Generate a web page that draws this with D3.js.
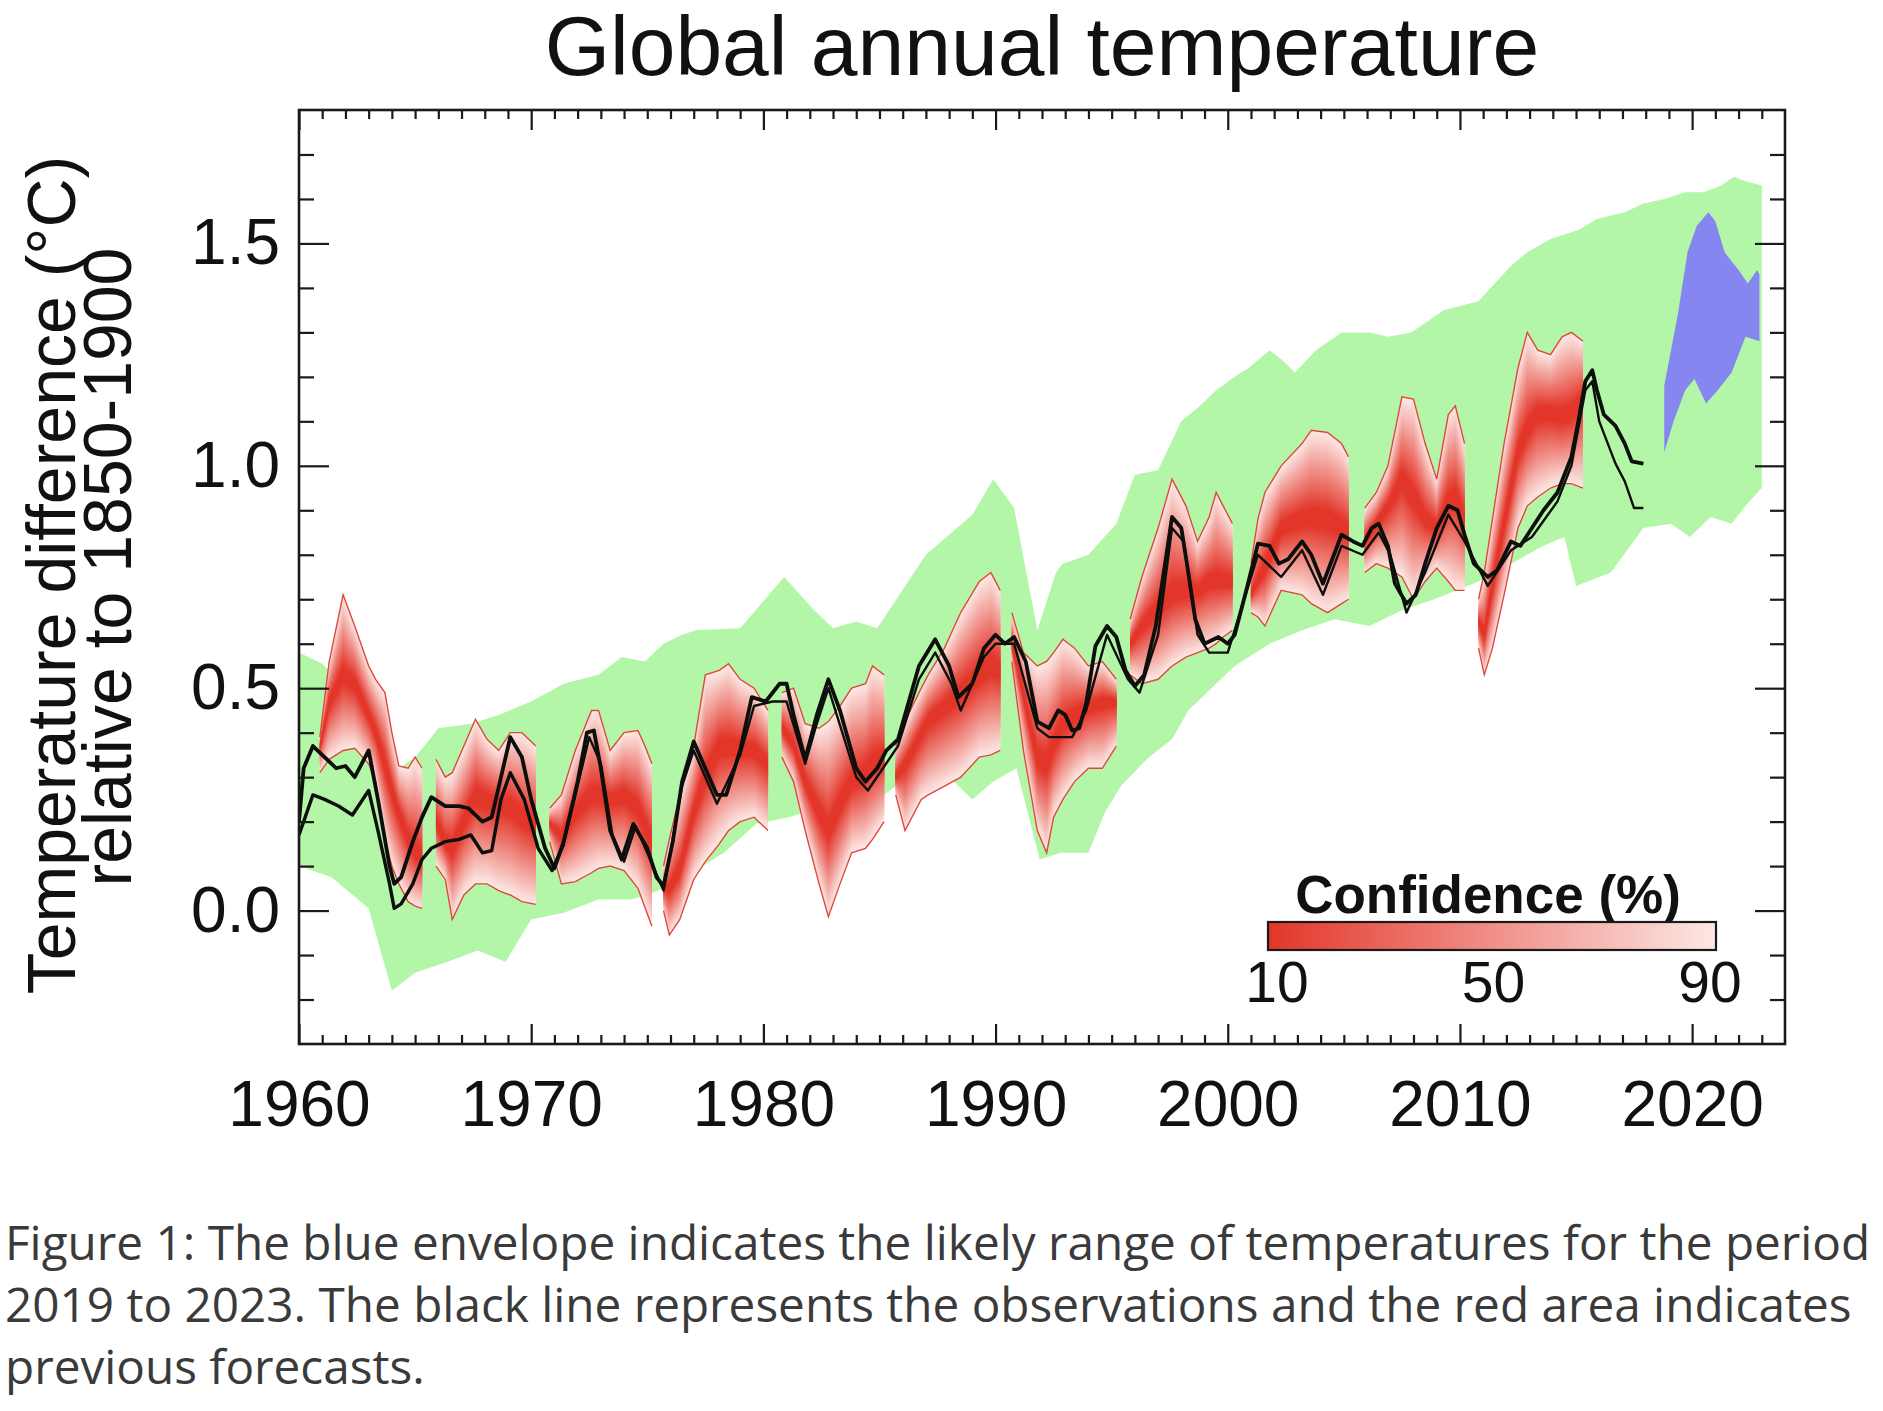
<!DOCTYPE html>
<html>
<head>
<meta charset="utf-8">
<title>Global annual temperature</title>
<script src="https://cdn.jsdelivr.net/npm/d3@7"></script>
<style>
  body { margin: 0; background: #fff; }
  svg { display: block; }
  .axis text { font-family: "Liberation Sans", Arial, sans-serif; font-size: 64px; fill: #111; }
  .axis line { stroke: #1a1a1a; stroke-width: 2.2px; }
  .axis .domain { display: none; }
</style>
</head>
<body>
<svg id="chart"></svg>
<script>
// ---- data ----------------------------------------------------------------

const decadeTicks = [1960, 1970, 1980, 1990, 2000, 2010, 2020];
const valueTicks = [0.0, 0.5, 1.0, 1.5];
const confidenceTicks = [10, 50, 90];

// green envelope: [year, value]
const envelopeUpper = [
  [1960.0, 0.58], [1961.0, 0.555], [1962.0, 0.50], [1963.0, 0.42], [1963.7, 0.36],
  [1964.3, 0.32], [1965.0, 0.345], [1965.4, 0.37], [1966.0, 0.41], [1967.4, 0.42],
  [1968.6, 0.44], [1970.0, 0.47], [1971.4, 0.51], [1972.9, 0.53], [1973.9, 0.57],
  [1974.9, 0.56], [1975.7, 0.60], [1976.5, 0.62], [1977.1, 0.63], [1979.0, 0.635],
  [1980.9, 0.75], [1982.1, 0.68], [1983.0, 0.635], [1984.0, 0.65], [1984.9, 0.635],
  [1987.0, 0.80], [1989.0, 0.89], [1989.9, 0.97], [1990.8, 0.905], [1991.8, 0.63],
  [1992.6, 0.76], [1992.9, 0.78], [1994.0, 0.80], [1995.2, 0.87], [1996.0, 0.98],
  [1997.0, 0.99], [1998.0, 1.10], [1998.7, 1.13], [1999.5, 1.17], [2000.3, 1.20],
  [2000.9, 1.22], [2001.8, 1.26], [2002.3, 1.24], [2002.9, 1.21], [2003.8, 1.26],
  [2004.9, 1.30], [2006.1, 1.30], [2006.9, 1.29], [2007.9, 1.30], [2009.3, 1.35],
  [2010.8, 1.37], [2012.2, 1.45], [2012.9, 1.48], [2013.9, 1.51], [2015.1, 1.53],
  [2015.9, 1.555], [2017.1, 1.57], [2017.9, 1.59], [2018.8, 1.60], [2019.7, 1.615],
  [2020.5, 1.615], [2021.25, 1.63], [2021.8, 1.65], [2022.3, 1.64], [2023.0, 1.63]
];
const envelopeLower = [
  [1960.0, 0.10], [1961.4, 0.075], [1963.0, 0.005], [1964.0, -0.18], [1965.0, -0.14],
  [1966.4, -0.115], [1967.7, -0.09], [1968.9, -0.115], [1970.0, -0.02], [1971.4, -0.005],
  [1972.9, 0.025], [1974.3, 0.025], [1975.0, 0.035], [1976.1, 0.06], [1977.0, 0.088],
  [1978.3, 0.13], [1979.7, 0.195], [1981.1, 0.21], [1982.6, 0.235], [1984.0, 0.235],
  [1985.2, 0.26], [1986.2, 0.30], [1987.6, 0.32], [1989.0, 0.25], [1989.9, 0.29],
  [1990.9, 0.32], [1991.9, 0.115], [1992.8, 0.13], [1994.0, 0.13], [1994.7, 0.22],
  [1995.4, 0.28], [1996.6, 0.345], [1997.6, 0.385], [1998.3, 0.45], [1999.5, 0.51],
  [2000.3, 0.55], [2001.8, 0.60], [2003.2, 0.63], [2004.6, 0.655], [2006.1, 0.64],
  [2007.5, 0.675], [2008.9, 0.70], [2010.8, 0.74], [2012.2, 0.78], [2013.6, 0.82],
  [2014.5, 0.84], [2015.0, 0.73], [2016.5, 0.76], [2017.9, 0.86], [2019.1, 0.87],
  [2019.9, 0.84], [2020.8, 0.885], [2021.7, 0.87], [2022.3, 0.91], [2023.0, 0.95]
];

// blue envelope, forecast for 2019-2023: [year, value]
const outlookUpper = [
  [2018.8, 1.18], [2019.4, 1.345], [2019.8, 1.48], [2020.2, 1.54], [2020.7, 1.57],
  [2021.0, 1.55], [2021.4, 1.48], [2022.0, 1.44], [2022.4, 1.41], [2022.8, 1.44],
  [2022.9, 1.43]
];
const outlookLower = [
  [2018.8, 1.03], [2019.2, 1.10], [2019.7, 1.17], [2020.1, 1.195], [2020.6, 1.14],
  [2021.1, 1.17], [2021.7, 1.21], [2022.3, 1.29], [2022.9, 1.28]
];

// previous forecasts: [year, 90% low, median, 90% high]
const forecast1961 = [
  [1960.9, 0.31, 0.37, 0.39], [1961.3, 0.34, 0.47, 0.56], [1961.9, 0.36, 0.53, 0.71],
  [1962.4, 0.365, 0.51, 0.64], [1963.0, 0.33, 0.44, 0.55], [1963.3, 0.29, 0.40, 0.52],
  [1963.7, 0.16, 0.33, 0.49], [1964.0, 0.10, 0.27, 0.40], [1964.3, 0.06, 0.22, 0.325],
  [1964.7, 0.02, 0.16, 0.32], [1965.0, 0.01, 0.13, 0.345], [1965.3, 0.005, 0.115, 0.32]
];
const forecast1966 = [
  [1965.9, 0.10, 0.20, 0.34], [1966.3, 0.07, 0.15, 0.30], [1966.6, -0.02, 0.14, 0.31],
  [1967.1, 0.035, 0.20, 0.37], [1967.6, 0.06, 0.26, 0.43], [1968.1, 0.06, 0.25, 0.385],
  [1968.6, 0.045, 0.24, 0.36], [1969.1, 0.035, 0.235, 0.40], [1969.6, 0.02, 0.21, 0.40],
  [1970.2, 0.014, 0.19, 0.37]
];
const forecast1971 = [
  [1970.8, 0.155, 0.195, 0.23], [1971.3, 0.06, 0.17, 0.26], [1971.9, 0.065, 0.22, 0.36],
  [1972.6, 0.085, 0.26, 0.45], [1972.9, 0.095, 0.26, 0.45], [1973.4, 0.10, 0.25, 0.36],
  [1974.0, 0.09, 0.26, 0.40], [1974.6, 0.05, 0.23, 0.405], [1974.9, 0.007, 0.19, 0.37],
  [1975.2, -0.035, 0.155, 0.33]
];
const forecast1976 = [
  [1975.7, 0.0, 0.05, 0.10], [1975.95, -0.055, 0.05, 0.16], [1976.4, -0.02, 0.09, 0.26],
  [1977.0, 0.07, 0.22, 0.37], [1977.5, 0.11, 0.30, 0.53], [1978.1, 0.15, 0.37, 0.54],
  [1978.5, 0.18, 0.37, 0.555], [1979.0, 0.20, 0.365, 0.52], [1979.6, 0.21, 0.36, 0.50],
  [1980.2, 0.18, 0.33, 0.45]
];
const forecast1981 = [
  [1980.8, 0.345, 0.41, 0.49], [1981.3, 0.29, 0.37, 0.50], [1981.8, 0.18, 0.29, 0.42],
  [1982.4, 0.06, 0.22, 0.41], [1982.8, -0.014, 0.18, 0.425], [1983.3, 0.06, 0.24, 0.46],
  [1983.8, 0.13, 0.29, 0.50], [1984.4, 0.14, 0.31, 0.51], [1984.7, 0.16, 0.33, 0.55],
  [1985.2, 0.20, 0.345, 0.53]
];
const forecast1986 = [
  [1985.7, 0.26, 0.30, 0.37], [1986.1, 0.18, 0.33, 0.425], [1986.8, 0.25, 0.40, 0.50],
  [1987.1, 0.26, 0.43, 0.53], [1987.8, 0.28, 0.46, 0.59], [1988.5, 0.30, 0.49, 0.67],
  [1989.3, 0.345, 0.53, 0.74], [1989.8, 0.35, 0.55, 0.76], [1990.2, 0.36, 0.54, 0.72]
];
const forecast1991 = [
  [1990.7, 0.56, 0.60, 0.67], [1991.2, 0.36, 0.49, 0.58], [1991.8, 0.18, 0.34, 0.55],
  [1992.2, 0.13, 0.33, 0.56], [1992.5, 0.21, 0.37, 0.58], [1992.9, 0.25, 0.42, 0.61],
  [1993.4, 0.29, 0.44, 0.59], [1994.0, 0.32, 0.46, 0.55], [1994.6, 0.32, 0.47, 0.56],
  [1995.2, 0.37, 0.47, 0.52]
];
const forecast1996 = [
  [1995.8, 0.53, 0.60, 0.655], [1996.3, 0.51, 0.64, 0.75], [1997.0, 0.52, 0.68, 0.86],
  [1997.6, 0.55, 0.71, 0.97], [1998.2, 0.57, 0.72, 0.91], [1998.7, 0.58, 0.72, 0.83],
  [1999.2, 0.59, 0.74, 0.885], [1999.5, 0.60, 0.74, 0.94], [1999.8, 0.615, 0.74, 0.91],
  [2000.2, 0.63, 0.74, 0.87]
];
const forecast2001 = [
  [2001.0, 0.67, 0.71, 0.78], [2001.3, 0.66, 0.74, 0.88], [2001.6, 0.64, 0.77, 0.94],
  [2002.3, 0.72, 0.86, 1.00], [2003.2, 0.71, 0.88, 1.05], [2003.6, 0.69, 0.885, 1.08],
  [2004.3, 0.67, 0.88, 1.075], [2004.9, 0.69, 0.86, 1.05], [2005.2, 0.70, 0.85, 1.02]
];
const forecast2006 = [
  [2005.9, 0.76, 0.83, 0.905], [2006.4, 0.78, 0.87, 0.94], [2006.9, 0.77, 0.91, 1.00],
  [2007.5, 0.75, 0.97, 1.155], [2008.0, 0.70, 0.93, 1.15], [2008.5, 0.74, 0.88, 1.05],
  [2009.0, 0.77, 0.86, 0.97], [2009.5, 0.74, 0.92, 1.115], [2009.8, 0.72, 0.93, 1.135],
  [2010.2, 0.72, 0.88, 1.05]
];
const forecast2011 = [
  [2010.8, 0.59, 0.65, 0.70], [2011.05, 0.53, 0.62, 0.76], [2011.4, 0.59, 0.73, 0.88],
  [2011.9, 0.71, 0.87, 1.05], [2012.5, 0.86, 1.03, 1.22], [2012.9, 0.91, 1.08, 1.30],
  [2013.35, 0.93, 1.12, 1.26], [2013.9, 0.95, 1.12, 1.25], [2014.4, 0.96, 1.11, 1.29],
  [2014.8, 0.96, 1.12, 1.30], [2015.3, 0.95, 1.15, 1.28]
];

// observations: [year, value]
const obsMain = [
  [1960.0, 0.20], [1960.2, 0.32], [1960.6, 0.37], [1961.1, 0.345], [1961.6, 0.32],
  [1962.0, 0.325], [1962.4, 0.30], [1963.0, 0.36], [1963.4, 0.25], [1963.9, 0.10],
  [1964.1, 0.06], [1964.4, 0.075], [1964.9, 0.155], [1965.3, 0.21], [1965.7, 0.255],
  [1966.3, 0.235], [1966.9, 0.235], [1967.3, 0.23], [1967.9, 0.20], [1968.3, 0.21],
  [1968.7, 0.30], [1969.1, 0.39], [1969.6, 0.345], [1970.0, 0.25], [1970.6, 0.14],
  [1971.0, 0.095], [1971.4, 0.155], [1972.0, 0.29], [1972.4, 0.40], [1972.7, 0.405],
  [1973.0, 0.32], [1973.4, 0.18], [1973.9, 0.115], [1974.4, 0.195], [1975.0, 0.14],
  [1975.4, 0.075], [1975.7, 0.055], [1976.1, 0.155], [1976.5, 0.29], [1977.0, 0.38],
  [1977.5, 0.32], [1978.0, 0.26], [1978.4, 0.26], [1979.0, 0.36], [1979.5, 0.48],
  [1980.1, 0.47], [1980.7, 0.51], [1981.0, 0.51], [1981.3, 0.44], [1981.8, 0.34],
  [1982.3, 0.44], [1982.8, 0.52], [1983.3, 0.45], [1984.0, 0.32], [1984.4, 0.29],
  [1984.9, 0.32], [1985.3, 0.36], [1985.8, 0.385], [1986.7, 0.55], [1987.4, 0.61],
  [1988.0, 0.55], [1988.4, 0.48], [1989.0, 0.51], [1989.5, 0.59], [1990.0, 0.62],
  [1990.4, 0.60], [1990.8, 0.615], [1991.3, 0.56], [1991.8, 0.425], [1992.3, 0.41],
  [1992.7, 0.45], [1993.0, 0.44], [1993.3, 0.405], [1993.6, 0.41], [1993.9, 0.465],
  [1994.3, 0.595], [1994.8, 0.64], [1995.2, 0.615], [1995.6, 0.54], [1996.0, 0.505],
  [1996.4, 0.53], [1996.9, 0.64], [1997.3, 0.78], [1997.6, 0.885], [1998.0, 0.86],
  [1998.3, 0.76], [1998.6, 0.655], [1999.0, 0.60], [1999.6, 0.615], [2000.0, 0.60],
  [2000.3, 0.62], [2000.8, 0.72], [2001.3, 0.825], [2001.8, 0.82], [2002.2, 0.78],
  [2002.6, 0.79], [2003.2, 0.83], [2003.6, 0.80], [2004.1, 0.735], [2004.5, 0.79],
  [2004.9, 0.845], [2005.4, 0.83], [2005.8, 0.82], [2006.2, 0.86], [2006.5, 0.87],
  [2006.9, 0.82], [2007.2, 0.735], [2007.7, 0.69], [2008.1, 0.71], [2008.5, 0.78],
  [2009.0, 0.86], [2009.5, 0.91], [2009.9, 0.90], [2010.2, 0.845], [2010.6, 0.78],
  [2011.2, 0.75], [2011.6, 0.765], [2012.2, 0.83], [2012.6, 0.82], [2013.1, 0.86],
  [2013.6, 0.90], [2014.2, 0.94], [2014.8, 1.02], [2015.1, 1.10], [2015.4, 1.19],
  [2015.7, 1.215], [2015.9, 1.17], [2016.2, 1.115], [2016.7, 1.09], [2017.1, 1.05],
  [2017.4, 1.01], [2017.9, 1.005]
];
const obsEarly = [
  [1960.0, 0.17], [1960.6, 0.26], [1961.1, 0.25], [1961.7, 0.235], [1962.3, 0.215],
  [1963.0, 0.27], [1963.4, 0.18], [1963.9, 0.06], [1964.1, 0.005], [1964.4, 0.015],
  [1964.9, 0.06], [1965.3, 0.115], [1965.7, 0.14], [1966.3, 0.155], [1966.9, 0.16],
  [1967.4, 0.17], [1967.9, 0.13], [1968.3, 0.135], [1968.7, 0.25], [1969.1, 0.31],
  [1969.7, 0.25], [1970.3, 0.14], [1970.9, 0.09], [1971.4, 0.15]
];
const obsAlt = [
  [1971.4, 0.15], [1972.0, 0.28], [1972.5, 0.39], [1973.0, 0.33], [1973.5, 0.17],
  [1974.0, 0.11], [1974.5, 0.19], [1975.0, 0.13], [1975.7, 0.045], [1976.5, 0.28],
  [1977.0, 0.36], [1978.0, 0.24], [1979.0, 0.35], [1979.6, 0.46], [1980.4, 0.47],
  [1981.0, 0.47], [1981.8, 0.33], [1982.3, 0.42], [1982.8, 0.50], [1984.0, 0.30],
  [1984.5, 0.27], [1985.8, 0.37], [1986.7, 0.52], [1987.4, 0.58], [1988.1, 0.51],
  [1988.5, 0.45], [1989.5, 0.57], [1990.0, 0.60], [1990.8, 0.60], [1991.8, 0.41],
  [1992.3, 0.39], [1993.3, 0.39], [1993.9, 0.45], [1994.8, 0.62], [1995.7, 0.52],
  [1996.2, 0.49], [1997.0, 0.62], [1997.6, 0.86], [1998.1, 0.83], [1998.7, 0.62],
  [1999.2, 0.58], [2000.0, 0.58], [2001.3, 0.80], [2002.3, 0.75], [2003.2, 0.81],
  [2004.1, 0.71], [2004.9, 0.82], [2005.8, 0.80], [2006.5, 0.85], [2007.0, 0.80],
  [2007.7, 0.67], [2008.5, 0.76], [2009.5, 0.89], [2010.2, 0.83], [2011.2, 0.73],
  [2012.2, 0.81], [2013.1, 0.84], [2014.2, 0.92], [2014.8, 1.00], [2015.4, 1.17],
  [2015.7, 1.19], [2016.0, 1.10], [2016.7, 1.005], [2017.1, 0.965], [2017.5, 0.905],
  [2017.9, 0.905]
];

const captionLines = [
  'Figure 1: The blue envelope indicates the likely range of temperatures for the period',
  '2019 to 2023. The black line represents the observations and the red area indicates',
  'previous forecasts.'
];

// ---- chart ----------------------------------------------------------------

class ForecastChart {

  constructor(_config) {
    this.config = {
      parentElement: _config.parentElement,
      containerWidth: _config.containerWidth || 1883,
      containerHeight: _config.containerHeight || 1411,
      margin: _config.margin || {top: 110, right: 98, bottom: 367, left: 299},
      title: _config.title,
      yLabel: _config.yLabel
    }
    this.forecasts = [forecast1961, forecast1966, forecast1971, forecast1976, forecast1981,
      forecast1986, forecast1991, forecast1996, forecast2001, forecast2006, forecast2011];
    this.initVis();
  }

  initVis() {
    let vis = this;

    vis.width = vis.config.containerWidth - vis.config.margin.left - vis.config.margin.right;
    vis.height = vis.config.containerHeight - vis.config.margin.top - vis.config.margin.bottom;

    vis.xScale = d3.scaleLinear()
        .domain([1960, 2024])
        .range([0, vis.width]);

    vis.yScale = d3.scaleLinear()
        .domain([-0.3, 1.8])
        .range([vis.height, 0]);

    // confidence (%) -> shade of red, same scale feeds the legend bar
    vis.colour = d3.scaleLinear()
        .domain([10, 90])
        .range(['#e3362a', '#fce8e5'])
        .clamp(true);

    // nested bands, widest (90%) first; width of each band grows with its level
    vis.levels = d3.range(90, 0, -2.5);
    vis.spread = d3.scaleLinear().domain([0, 90]).range([0, 1]);

    vis.svg = d3.select(vis.config.parentElement)
        .attr('width', vis.config.containerWidth)
        .attr('height', vis.config.containerHeight);

    vis.chart = vis.svg.append('g')
        .attr('transform', `translate(${vis.config.margin.left},${vis.config.margin.top})`);

    vis.svg.append('defs').append('clipPath')
        .attr('id', 'plot-clip')
      .append('rect')
        .attr('width', vis.width)
        .attr('height', vis.height);

    vis.plot = vis.chart.append('g')
        .attr('clip-path', 'url(#plot-clip)');

    vis.polygon = d3.line()
        .x(d => vis.xScale(d[0]))
        .y(d => vis.yScale(d[1]))
        .curve(d3.curveLinearClosed);

    vis.line = d3.line()
        .x(d => vis.xScale(d[0]))
        .y(d => vis.yScale(d[1]));
  }

  renderVis() {
    let vis = this;

    // green envelope
    vis.plot.append('path')
        .attr('d', vis.polygon(envelopeUpper.concat(envelopeLower.slice().reverse())))
        .attr('fill', '#b3f6a7');

    // red forecast fans, darkest at the median
    vis.forecasts.forEach(fc => {
      const g = vis.plot.append('g').attr('class', 'forecast');
      g.selectAll('path.band')
        .data(vis.levels)
        .join('path')
          .attr('class', 'band')
          .attr('fill', p => vis.colour(p))
          .attr('d', p => {
            const s = vis.spread(p);
            return d3.area()
                .x(d => vis.xScale(d[0]))
                .y0(d => vis.yScale(d[2] + s * (d[1] - d[2])))
                .y1(d => vis.yScale(d[2] + s * (d[3] - d[2])))(fc);
          });
      [1, 3].forEach(k => {
        g.append('path')
            .attr('d', d3.line().x(d => vis.xScale(d[0])).y(d => vis.yScale(d[k]))(fc))
            .attr('fill', 'none')
            .attr('stroke', '#e0473b')
            .attr('stroke-width', 1.4);
      });
    });

    // blue envelope
    vis.plot.append('path')
        .attr('d', vis.polygon(outlookUpper.concat(outlookLower.slice().reverse())))
        .attr('fill', '#8686f0');

    // observations
    [[obsAlt, 2.4], [obsEarly, 3.4], [obsMain, 3.8]].forEach(([series, w]) => {
      vis.plot.append('path')
          .datum(series)
          .attr('d', vis.line)
          .attr('fill', 'none')
          .attr('stroke', '#0c0f0c')
          .attr('stroke-width', w)
          .attr('stroke-linejoin', 'round');
    });

    vis.renderLegend();
    vis.renderAxes();
    vis.renderText();
  }

  renderLegend() {
    let vis = this;
    const bar = {x: 1268, y: 922, w: 448, h: 28};

    const grad = vis.svg.select('defs').append('linearGradient')
        .attr('id', 'conf-grad');
    grad.selectAll('stop')
      .data(d3.range(10, 90.1, 8))
      .join('stop')
        .attr('offset', d => `${(d - 10) / 80 * 100}%`)
        .attr('stop-color', d => vis.colour(d));

    const lg = vis.svg.append('g').attr('class', 'legend');

    lg.append('text')
        .attr('x', bar.x + bar.w / 2 - 4)
        .attr('y', bar.y - 9)
        .attr('text-anchor', 'middle')
        .style('font-family', '"Liberation Sans", Arial, sans-serif')
        .style('font-weight', 'bold')
        .style('font-size', '53px')
        .attr('fill', '#111')
        .text('Confidence (%)');

    lg.append('rect')
        .attr('x', bar.x).attr('y', bar.y)
        .attr('width', bar.w).attr('height', bar.h)
        .attr('fill', 'url(#conf-grad)')
        .attr('stroke', '#1a1a1a')
        .attr('stroke-width', 2.2);

    const cx = d3.scaleLinear().domain([10, 90]).range([bar.x + 9, bar.x + bar.w - 6]);
    lg.selectAll('text.conf')
      .data(confidenceTicks)
      .join('text')
        .attr('class', 'conf')
        .attr('x', d => cx(d))
        .attr('y', 1002)
        .attr('text-anchor', 'middle')
        .style('font-family', '"Liberation Sans", Arial, sans-serif')
        .style('font-size', '57px')
        .attr('fill', '#111')
        .text(d => d);
  }

  renderAxes() {
    let vis = this;
    const minorYears = d3.range(1961, 2024).filter(d => d % 10 !== 0);
    const minorValues = d3.range(-2, 18).map(d => d / 10).filter(d => Math.round(d * 10) % 5 !== 0);

    const add = (gen, tx, ty) => vis.chart.append('g')
        .attr('class', 'axis')
        .attr('transform', `translate(${tx},${ty})`)
        .call(gen);

    // inward ticks on all four sides
    add(d3.axisTop(vis.xScale).tickValues(minorYears).tickSize(9).tickFormat(''), 0, vis.height);
    add(d3.axisTop(vis.xScale).tickValues(decadeTicks).tickSize(20).tickFormat(''), 0, vis.height);
    add(d3.axisBottom(vis.xScale).tickValues(minorYears).tickSize(9).tickFormat(''), 0, 0);
    add(d3.axisBottom(vis.xScale).tickValues(decadeTicks).tickSize(20).tickFormat(''), 0, 0);
    add(d3.axisRight(vis.yScale).tickValues(minorValues).tickSize(15).tickFormat(''), 0, 0);
    add(d3.axisRight(vis.yScale).tickValues(valueTicks).tickSize(30).tickFormat(''), 0, 0);
    add(d3.axisLeft(vis.yScale).tickValues(minorValues).tickSize(15).tickFormat(''), vis.width, 0);
    add(d3.axisLeft(vis.yScale).tickValues(valueTicks).tickSize(30).tickFormat(''), vis.width, 0);

    // labels
    add(d3.axisBottom(vis.xScale).tickValues(decadeTicks).tickSize(0).tickPadding(37)
        .tickFormat(d3.format('d')), 0, vis.height);
    add(d3.axisLeft(vis.yScale).tickValues(valueTicks).tickSize(0).tickPadding(19)
        .tickFormat(d3.format('.1f')), 0, 0);

    vis.chart.selectAll('.axis text')
        .attr('font-size', null)
        .attr('font-family', null);

    vis.chart.append('rect')
        .attr('width', vis.width)
        .attr('height', vis.height)
        .attr('fill', 'none')
        .attr('stroke', '#1a1a1a')
        .attr('stroke-width', 2.6);
  }

  renderText() {
    let vis = this;
    const font = '"Liberation Sans", Arial, sans-serif';

    vis.svg.append('text')
        .attr('x', vis.config.margin.left + vis.width / 2)
        .attr('y', 75)
        .attr('text-anchor', 'middle')
        .style('font-family', font)
        .style('font-size', '84px')
        .attr('fill', '#111')
        .text(vis.config.title);

    vis.config.yLabel.forEach((label, i) => {
      vis.svg.append('text')
          .attr('transform', `translate(${75 + i * 56}, ${575 - i * 8})rotate(-90)`)
          .attr('text-anchor', 'middle')
          .style('font-family', font)
          .style('font-size', '68px')
          .attr('fill', '#111')
          .text(label);
    });

    // caption below the figure, scaled so the first line fills the width
    const cap = vis.svg.append('g').attr('class', 'caption');
    const lines = cap.selectAll('text')
      .data(captionLines)
      .join('text')
        .attr('x', 5)
        .attr('y', (d, i) => 1260 + i * 62)
        .style('font-family', '"Open Sans", "Noto Sans", sans-serif')
        .style('font-size', '40px')
        .attr('fill', '#3a3a3a')
        .text(d => d);
    const w = lines.node().getComputedTextLength();
    lines.style('font-size', `${40 * 1866 / w}px`);
  }
}

const chart = new ForecastChart({
  parentElement: '#chart',
  title: 'Global annual temperature',
  yLabel: ['Temperature difference (°C)', 'relative to 1850-1900']
});
chart.renderVis();
</script>
</body>
</html>
